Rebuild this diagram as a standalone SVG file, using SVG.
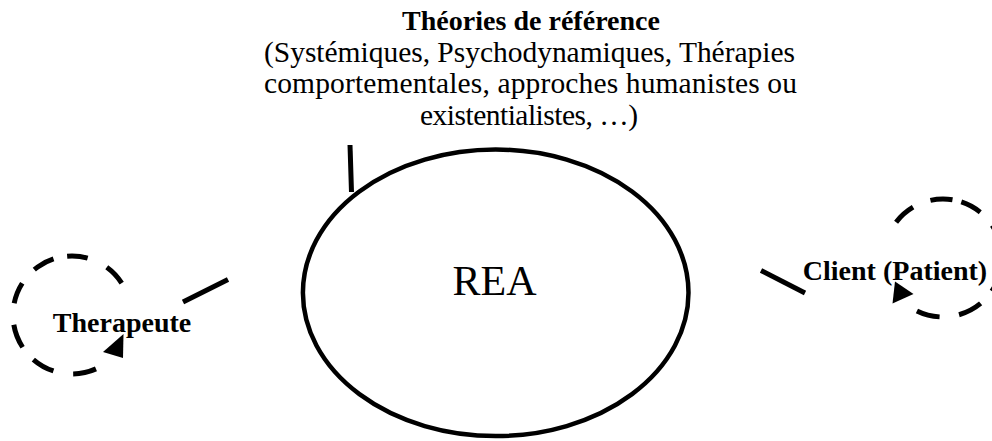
<svg xmlns="http://www.w3.org/2000/svg" width="992" height="441" viewBox="0 0 992 441">
  <style>
    .bg { fill: #ffffff; }
    .lbl { font-family: "Liberation Serif", "Times New Roman", serif; fill: #000000; }
    .reg { font-size: 29.5px; }
    .bold { font-size: 28px; font-weight: bold; }
    .big { font-size: 42px; }
    .solid { fill: none; stroke: #000000; stroke-width: 4.5; }
    .conn { fill: none; stroke: #000000; stroke-width: 5; stroke-linecap: butt; }
    .dash { fill: none; stroke: #000000; stroke-width: 5; stroke-linecap: butt; }
    .head { fill: #000000; stroke: none; }
  </style>
  <rect class="bg" x="0" y="0" width="992" height="441"/>

  <g id="theories">
    <text class="lbl bold" x="531" y="30" text-anchor="middle" textLength="258">Théories de référence</text>
    <text class="lbl reg" x="529.5" y="61.7" text-anchor="middle" textLength="531">(Systémiques, Psychodynamiques, Thérapies</text>
    <text class="lbl reg" x="530.5" y="93.3" text-anchor="middle" textLength="533">comportementales, approches humanistes ou</text>
    <text class="lbl reg" x="529" y="125" text-anchor="middle" textLength="218">existentialistes, …)</text>
  </g>

  <g id="rea">
    <ellipse class="solid" cx="495.7" cy="292.8" rx="192.8" ry="143.3"/>
    <text class="lbl big" x="494.5" y="295" text-anchor="middle">REA</text>
  </g>

  <g id="therapeute">
    <path class="dash" d="M 121.7 283.2 A 59 59 0 1 0 109.9 360.2" stroke-dasharray="21.9 21.3 20.6 13.9 22.2 18.2 21.6 21.6 24.2 16.5 23.2 20 23.4 40"/>
    <polygon class="head" points="123.5,334 103,352 123,358"/>
    <text class="lbl bold" x="122" y="331.7" text-anchor="middle">Therapeute</text>
  </g>

  <g id="client">
    <path class="dash" d="M 896.1 222.2 A 59 59 0 1 1 904.3 302.5" stroke-dasharray="22.8 18.7 22.1 9.1 21.7 17.8 22.7 24.1 22.7 16.8 24.5 19.6 23.5 40"/>
    <polygon class="head" points="913.5,294 895,281.5 892.5,303.5"/>
    <text class="lbl bold" x="895" y="280" text-anchor="middle">Client (Patient)</text>
  </g>

  <g id="connectors">
    <line class="conn" x1="350" y1="145" x2="351.5" y2="192"/>
    <line class="conn" x1="183" y1="302" x2="228" y2="279.5"/>
    <line class="conn" x1="761" y1="270.5" x2="805" y2="293"/>
  </g>
</svg>
